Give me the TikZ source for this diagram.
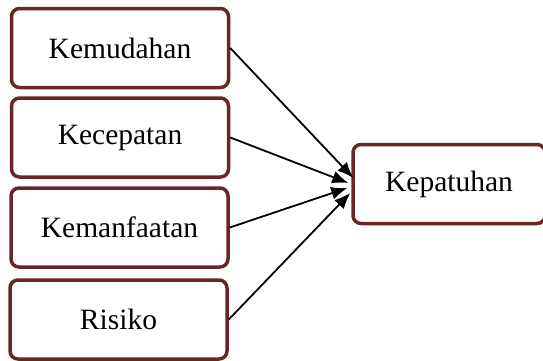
\documentclass[tikz,border=0pt]{standalone}
\usepackage{fontspec}
\setmainfont{Liberation Serif}
\usepackage{tikz}
\usetikzlibrary{arrows.meta}
\usetikzlibrary{calc}
\definecolor{boxred}{RGB}{105,38,38}
\tikzstyle{block} = [draw=boxred,rectangle,line width=3.5pt,rounded corners=8pt,
                     minimum width=217pt,minimum height=79pt,
                     font=\fontsize{29.5}{34}\selectfont]
\tikzstyle{connector} = [-{Latex[length=16pt,width=13pt]},line width=1.8pt,black]

\begin{document}
\begin{tikzpicture}[x=1pt,y=1pt]
    \useasboundingbox (0,0) rectangle (543,-360);
    % variables on the left
    \node[block] (kemudahan) at (120,-48) {Kemudahan};
    \node[block] (kecepatan) at (120,-137.5) {Kecepatan};
    \node[block] (kemanfaatan) at (119.5,-227.5) {Kemanfaatan};
    \node[block] (risiko) at (118.5,-319.5) {Risiko};
    % dependent variable
    \node[block, minimum width=192pt] (kepatuhan) at (449,-184) {Kepatuhan};

    % now link the nodes
    \draw [connector] (kemudahan.east) -- ($(kepatuhan.west) + (2,6)$);
    \draw [connector] (kecepatan.east) -- ($(kepatuhan.west) + (-3,1)$);
    \draw [connector] (kemanfaatan.east) -- ($(kepatuhan.west) + (-4,-4)$);
    \draw [connector] (risiko.east) -- ($(kepatuhan.west) + (-1,-9)$);
\end{tikzpicture}
\end{document}
